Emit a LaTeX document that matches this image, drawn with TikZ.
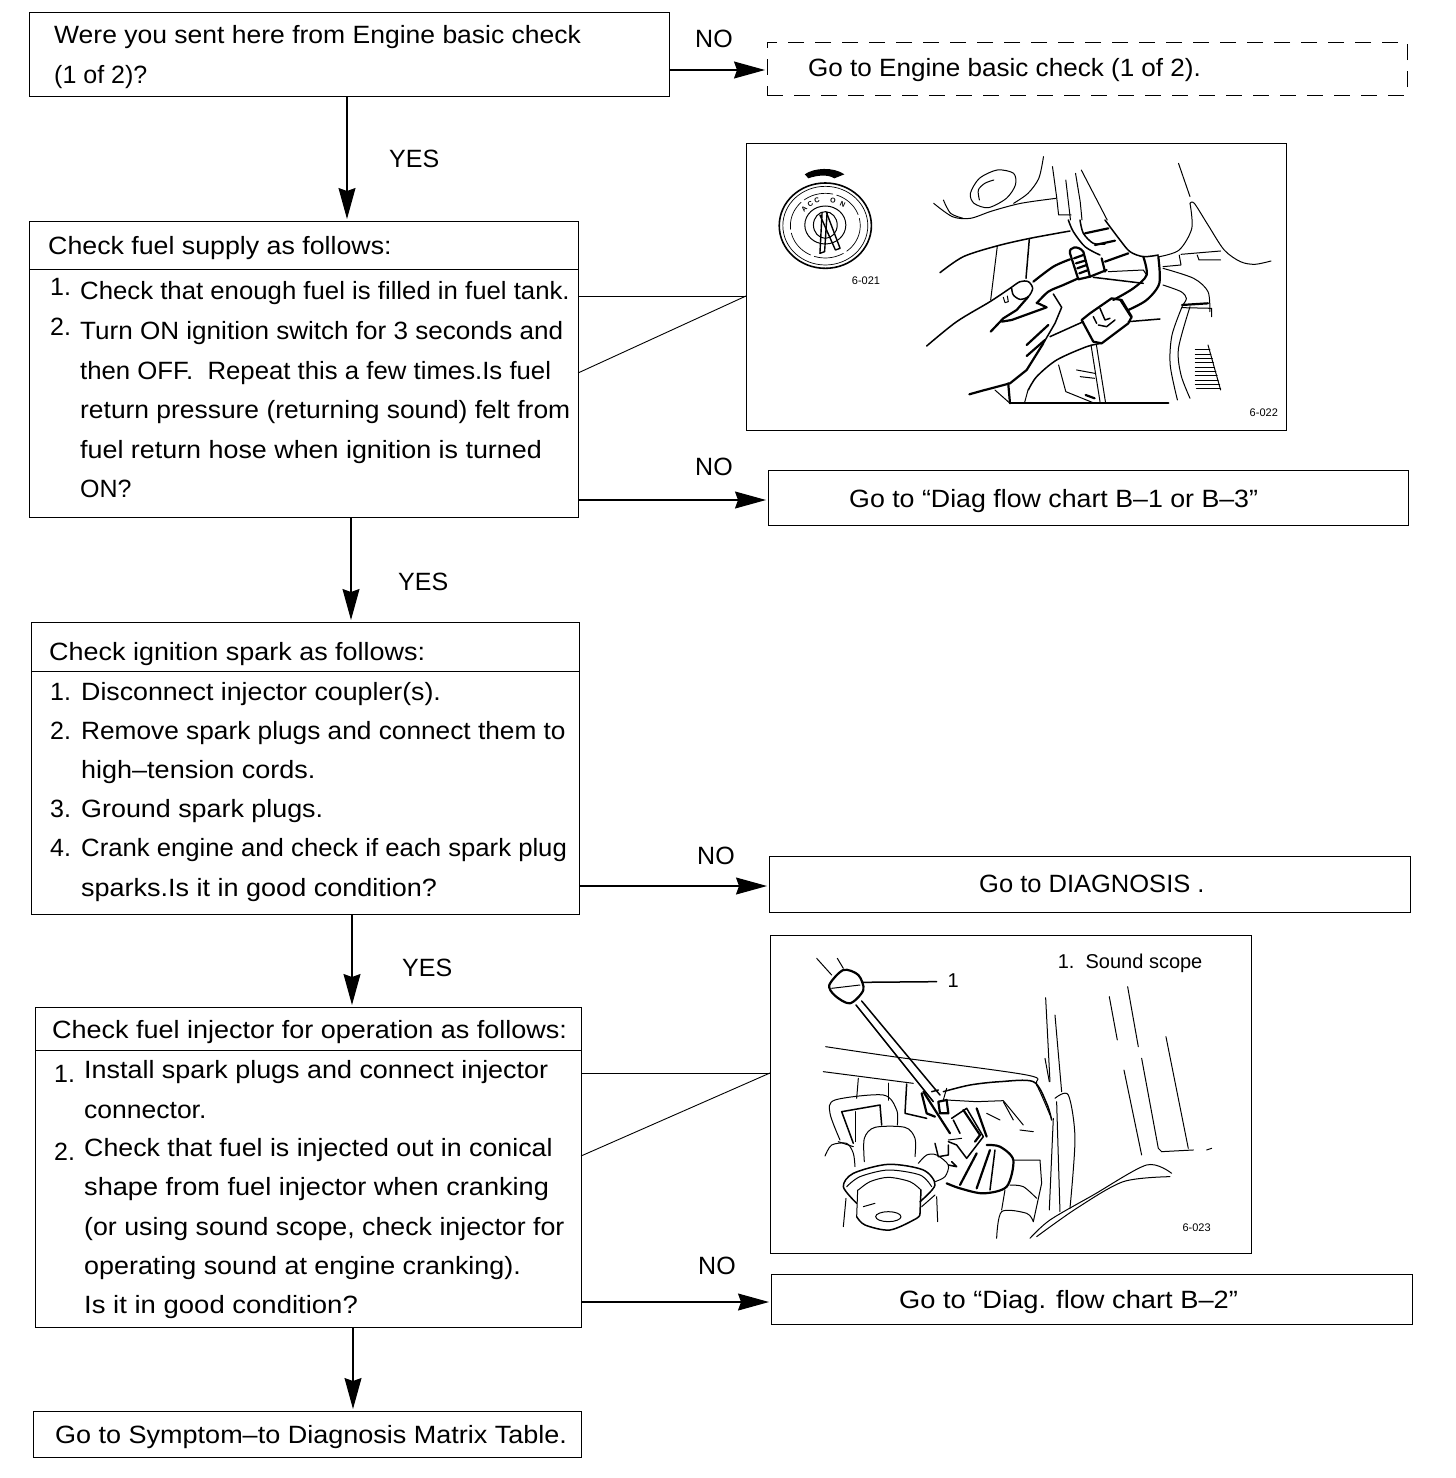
\documentclass[tikz,border=0pt]{standalone}
\usepackage{graphicx}
\usepackage{fontspec}
\setsansfont{Liberation Sans}
\usetikzlibrary{arrows.meta,positioning}
\newcommand{\sqz}[2]{\scalebox{#1}[1]{#2}}
\tikzset{
  % --- nodes
  box/.style    = {draw=black, line width=1pt, anchor=north west, inner sep=0pt, outer sep=0pt},
  gobox/.style  = {box},
  dashbox/.style= {box, line width=0.9pt, dash pattern=on 16pt off 11pt},
  photo/.style  = {box},
  txt/.style    = {anchor=base west, inner sep=0pt, font=\fontsize{25}{30}\selectfont\sffamily},
  capt/.style   = {anchor=base west, inner sep=0pt, font=\fontsize{20}{24}\selectfont\sffamily},
  fig/.style    = {anchor=center, inner sep=0pt, font=\fontsize{11}{13}\selectfont\sffamily},
  key/.style    = {anchor=center, inner sep=0pt, font=\fontsize{7}{8}\selectfont\sffamily\bfseries},
  % --- edges
  flow/.style   = {line width=1.2pt, -{Stealth[length=31pt,width=17pt,inset=3pt]}, shorten >=2pt},
  rulel/.style  = {line width=1pt},
  lead/.style   = {line width=0.9pt},
  ink/.style    = {line width=1pt, line join=round, line cap=round},
  inkm/.style   = {line width=1.5pt, line join=round, line cap=round},
  inkb/.style   = {line width=2.2pt, line join=round, line cap=round},
}
\begin{document}
\begin{tikzpicture}[x=1pt,y=-1pt]
  \useasboundingbox (0,0) rectangle (1456,1478);
  \fill[white] (0,0) rectangle (1456,1478);

  % first question
  \node[box, minimum width=640, minimum height=84] (q0) at (29,12) {};
  \node[txt] (q0a) at (54,43) {\sqz{1.06}{Were you sent here from Engine basic check}};
  \node[txt] (q0b) at (54,83) {(1 of 2)?};
  \node[dashbox, minimum width=640, minimum height=53] (goA) at (767,42) {};
  \node[txt] (goAt) at (808,76) {\sqz{1.043}{Go to Engine basic check (1 of 2).}};

  % fuel supply
  \node[box, minimum width=549, minimum height=296] (supply) at (29,221) {};
  \draw[rulel] (supply.west |- 0,269) -- (supply.east |- 0,269);
  \node[txt] (s0) at (48,254) {\sqz{1.07}{Check fuel supply as follows:}};
  \node[txt] (s1n) at (50,295) {1.};
  \node[txt] (s1) at (80,299) {\sqz{1.03}{Check that enough fuel is filled in fuel tank.}};
  \node[txt] (s2n) at (50,335) {2.};
  \node[txt] (s2) at (80,339) {\sqz{1.043}{Turn ON ignition switch for 3 seconds and}};
  \node[txt] (s3) at (80,379) {\sqz{1.03}{then OFF.\ \ Repeat this a few times.Is fuel}};
  \node[txt] (s4) at (80,418) {\sqz{1.056}{return pressure (returning sound) felt from}};
  \node[txt] (s5) at (80,458) {\sqz{1.075}{fuel return hose when ignition is turned}};
  \node[txt] (s6) at (80,497) {ON?};
  \node[gobox, minimum width=640, minimum height=55] (goB) at (768,470) {};
  \node[txt] (goBt) at (849,507) {\sqz{1.07}{Go to ``Diag flow chart B--1 or B--3''}};

  % ignition spark
  \node[box, minimum width=548, minimum height=292] (spark) at (31,622) {};
  \draw[rulel] (spark.west |- 0,671) -- (spark.east |- 0,671);
  \node[txt] (p0) at (49,660) {\sqz{1.078}{Check ignition spark as follows:}};
  \node[txt] (p1n) at (50,700) {1.};
  \node[txt] (p1) at (81,700) {\sqz{1.07}{Disconnect injector coupler(s).}};
  \node[txt] (p2n) at (50,739) {2.};
  \node[txt] (p2) at (81,739) {\sqz{1.05}{Remove spark plugs and connect them to}};
  \node[txt] (p3) at (81,778) {\sqz{1.08}{high--tension cords.}};
  \node[txt] (p4n) at (50,817) {3.};
  \node[txt] (p4) at (81,817) {\sqz{1.075}{Ground spark plugs.}};
  \node[txt] (p5n) at (50,856) {4.};
  \node[txt] (p5) at (81,856) {\sqz{1.028}{Crank engine and check if each spark plug}};
  \node[txt] (p6) at (81,896) {\sqz{1.08}{sparks.Is it in good condition?}};
  \node[gobox, minimum width=641, minimum height=56] (goC) at (769,856) {};
  \node[txt] (goCt) at (979,892) {\sqz{1.02}{Go to DIAGNOSIS .}};

  % fuel injector
  \node[box, minimum width=546, minimum height=320] (inject) at (35,1007) {};
  \draw[rulel] (inject.west |- 0,1050) -- (inject.east |- 0,1050);
  \node[txt] (j0) at (52,1038) {\sqz{1.08}{Check fuel injector for operation as follows:}};
  \node[txt] (j1n) at (54,1082) {1.};
  \node[txt] (j1) at (84,1078) {\sqz{1.077}{Install spark plugs and connect injector}};
  \node[txt] (j2) at (84,1118) {\sqz{1.06}{connector.}};
  \node[txt] (j3n) at (54,1160) {2.};
  \node[txt] (j3) at (84,1156) {\sqz{1.07}{Check that fuel is injected out in conical}};
  \node[txt] (j4) at (84,1195) {\sqz{1.086}{shape from fuel injector when cranking}};
  \node[txt] (j5) at (84,1235) {\sqz{1.07}{(or using sound scope, check injector for}};
  \node[txt] (j6) at (84,1274) {\sqz{1.076}{operating sound at engine cranking).}};
  \node[txt] (j7) at (84,1313) {\sqz{1.1}{Is it in good condition?}};
  \node[gobox, minimum width=641, minimum height=50] (goD) at (771,1274) {};
  \node[txt] (goDt) at (899,1308) {\sqz{1.09}{Go to ``Diag. flow chart B--2''}};

  % last box
  \node[box, minimum width=548, minimum height=46] (last) at (33,1411) {};
  \node[txt] (lastt) at (55,1443) {\sqz{1.08}{Go to Symptom--to Diagnosis Matrix Table.}};

  % pictures
  \node[photo, minimum width=540, minimum height=287] (photoA) at (746,143) {};
  \node[photo, minimum width=481, minimum height=318] (photoB) at (770,935) {};

  % yes / no
  \node[txt] (yesA) at (389,167) {YES};
  \node[txt] (yesB) at (398,590) {YES};
  \node[txt] (yesC) at (402,976) {YES};
  \node[txt] (noA) at (695,47) {NO};
  \node[txt] (noB) at (695,475) {NO};
  \node[txt] (noC) at (697,864) {NO};
  \node[txt] (noD) at (698,1274) {NO};

  % down arrows
  \draw[flow] (q0.south -| 347,0) -- (supply.north -| 347,0);
  \draw[flow] (supply.south -| 351,0) -- (spark.north -| 351,0);
  \draw[flow] (spark.south -| 352,0) -- (inject.north -| 352,0);
  \draw[flow] (inject.south -| 353,0) -- (last.north -| 353,0);

  % arrows to the right
  \draw[flow] (q0.east |- 0,70) -- (goA.west |- 0,70);
  \draw[flow] (supply.east |- 0,500) -- (goB.west |- 0,500);
  \draw[flow] (spark.east |- 0,886) -- (goC.west |- 0,886);
  \draw[flow] (inject.east |- 0,1302) -- (goD.west |- 0,1302);

  % leaders to the pictures
  \draw[lead] (supply.east |- 0,296) -- (photoA.west |- 0,296);
  \draw[lead] (supply.east |- 0,373) -- (photoA.west |- 0,296);
  \draw[lead] (inject.east |- 0,1073) -- (photoB.west |- 0,1073);
  \draw[lead] (inject.east |- 0,1156) -- (photoB.west |- 0,1073);

  % first picture, units of the crop
  \begin{scope}[shift={(740,135)},x=0.36pt,y=-0.3333pt]
    % ignition key
    \draw[ink, line width=1.6pt] (237,272) circle [radius=128];
    \draw[ink, line width=0.7pt] (237,272) circle [radius=118];
    \draw[ink, dash pattern=on 30pt off 4pt, line width=0.7pt] (237,272) circle [radius=97];
    \draw[ink] (237,270) circle [radius=57];
    \draw[ink] (237,270) ellipse [x radius=33, y radius=40];
    \draw[ink, line width=1.4pt] (228,232) -- (222,355) -- (235,350) -- (242,232);
    \draw[ink, line width=1.4pt] (222,240) -- (265,345) -- (278,340) -- (240,232);
    \fill[black] (180,118) .. controls (205,98) and (260,95) .. (290,118) -- (262,130) .. controls (245,118) and (215,120) .. (190,130) -- cycle;
    \node[key, rotate=45] (keyA) at (178,222) {A};
    \node[key, rotate=35] (keyB) at (195,207) {C};
    \node[key, rotate=20] (keyC) at (214,196) {C};
    \node[key, rotate=-10] (keyD) at (258,197) {O};
    \node[key, rotate=-25] (keyE) at (285,208) {N};
    \node[fig] (fig21) at (350,437) {6-021};
    \node[fig] (fig22) at (1455,833) {6-022};
    % cap and top lines
    \draw[ink] plot[smooth] coordinates {(538,205) (590,245) (640,250) (700,228) (780,205) (878,190)};
    \draw[ink] plot[smooth] coordinates {(565,195) (585,235) (620,250)};
    \draw[ink] plot[smooth cycle] coordinates {(640,175) (665,130) (715,105) (760,115) (765,150) (740,190) (690,218) (650,205)};
    \draw[ink] plot[smooth] coordinates {(665,195) (662,165) (680,145) (705,135)};
    \draw[ink] plot[smooth] coordinates {(843,65) (830,130) (800,175) (760,205)};
    \draw[ink] (868,95) -- (880,190) -- (885,240) -- (920,240);
    % upper hose and tank
    \draw[ink] (905,135) -- (912,200) -- (918,255);
    \draw[ink] (932,115) -- (945,200) -- (950,255);
    \draw[ink] (948,105) -- (1020,255);
    \draw[ink] plot[smooth] coordinates {(1165,365) (1220,345) (1255,280) (1250,205)};
    \draw[ink] plot[smooth] coordinates {(1250,205) (1262,205) (1300,270) (1345,345) (1390,380) (1430,388) (1475,378)};
    \draw[ink] (1218,85) -- (1250,185);
    % joins to the lower part
    \draw[ink] (790,805) -- (800,765);
    \draw[inkb] (680,765) -- (637,778);
    \draw[ink] (708,765) -- (750,805);
    \draw[inkb] (750,805) -- (745,745);
    \draw[inkb] (750,805) -- (1190,805);
    \draw[ink] (885,690) -- (905,770) -- (985,805);
    \draw[ink] (975,630) -- (1000,800);
    \draw[ink] (990,630) -- (1015,800);
    \draw[ink] (935,705) -- (985,715);
    \draw[ink] (945,725) -- (985,730);
    \draw[inkb] (960,780) -- (985,790);
    % right hoses
    \draw[ink] plot[smooth] coordinates {(1175,400) (1260,430) (1300,470) (1305,530)};
    \draw[ink] plot[smooth] coordinates {(1175,450) (1225,470) (1240,490) (1230,510)};
    \draw[inkb] (1228,510) -- (1300,505);
    \draw[ink] (1228,518) -- (1310,520) -- (1310,545);
    \draw[ink] plot[smooth] coordinates {(1230,510) (1200,600) (1195,690) (1215,795)};
    \draw[ink] plot[smooth] coordinates {(1250,515) (1218,640) (1225,720) (1250,790)};
    \draw[ink] (1300,630) -- (1335,765);
    \draw[ink] (1265,645) -- (1305,645) (1265,658) -- (1308,658) (1265,671) -- (1312,671)
       (1265,684) -- (1315,684) (1265,697) -- (1318,697) (1265,710) -- (1322,710)
       (1265,723) -- (1325,723) (1265,736) -- (1328,736) (1265,749) -- (1332,749) (1268,762) -- (1335,762);
    \draw[ink] (1220,360) -- (1225,390) -- (1175,395);
    \draw[ink] (1225,358) -- (1335,348);
    \draw[ink] (1270,360) -- (1275,375) -- (1335,375);
  \end{scope}

  % hand and clamp of the first picture
  \begin{scope}[shift={(920,220)},x=0.3333pt,y=-0.3333pt]
    \draw[inkm] plot[smooth] coordinates {(60,158) (130,110) (230,78) (330,55) (450,33)};
    \draw[ink] (232,78) -- (212,240);
    \draw[inkm] (328,57) -- (318,175);
    % hose above the clamp
    \draw[inkm] plot[smooth] coordinates {(445,0) (460,35) (495,80) (540,105)};
    \draw[inkm] plot[smooth] coordinates {(480,0) (490,40) (520,70) (555,72)};
    \draw[inkb] (495,40) -- (565,25);
    \draw[inkb] (525,75) -- (585,62);
    \draw[inkm] plot[smooth] coordinates {(555,0) (600,60) (630,95) (670,110) (715,105)};
    % clamp
    \draw[inkb] (450,100) .. controls (445,80) and (475,75) .. (490,95) -- (510,170) -- (475,178) -- cycle;
    \draw[inkb] (462,115) -- (490,105);
    \draw[inkb] (468,130) -- (495,122);
    \draw[inkb] (472,145) -- (500,135);
    \draw[inkb] (478,160) -- (505,150);
    \draw[inkb] (510,170) -- (560,150);
    \draw[inkb] (545,115) -- (555,155);
    \draw[inkb] (555,125) -- (625,100);
    \draw[ink] (565,155) -- (670,150) -- (680,165);
    \draw[inkm] (520,172) -- (670,190);
    % finger and hoses
    \draw[inkb] plot[smooth] coordinates {(340,185) (400,140) (450,118)};
    \draw[inkb] plot[smooth] coordinates {(350,250) (385,215) (430,195) (475,175)};
    \draw[inkm] plot[smooth] coordinates {(20,378) (110,305) (210,245) (270,205) (300,185) (325,185) (338,205) (325,230) (300,238) (280,225) (275,205)};
    \draw[inkb] (325,230) -- (290,270) -- (250,295) -- (212,335);
    \draw[inkb] (245,305) -- (275,300) -- (380,262) -- (350,248);
    \draw[ink] (250,232) -- (255,248) -- (265,245) -- (262,228);
    \draw[inkm] (400,222) -- (425,262) -- (405,310) -- (370,370);
    \draw[inkb] (370,370) -- (320,450) -- (270,490) -- (195,510);
    \draw[inkb] (320,375) -- (385,315);
    \draw[inkb] (320,408) -- (375,360);
    \draw[inkm] (390,350) -- (490,305);
    % connector
    \draw[inkb] (485,300) -- (510,280) -- (575,235) -- (605,240) -- (635,290) -- (625,310) -- (545,370) -- (520,365) -- cycle;
    \draw[inkm] (600,240) -- (635,295);
    \draw[inkm] (520,290) -- (530,310);
    \draw[inkm] (540,265) -- (555,300) -- (570,295);
    \draw[inkm] (535,315) -- (560,320) -- (585,300);
    \draw[inkm] (625,305) -- (720,297);
    \draw[inkm] plot[smooth] coordinates {(325,510) (350,470) (410,420) (500,380) (545,370)};
    % return pipe
    \draw[inkb] plot[smooth] coordinates {(670,110) (680,165) (640,205) (580,240)};
    \draw[inkb] plot[smooth] coordinates {(715,110) (718,190) (680,240) (625,270)};
  \end{scope}

  % second picture, units of the crop
  \begin{scope}[shift={(760,925)},x=0.3333pt,y=-0.3333pt]
    \node[capt] (scopeN) at (893,130) {1.\ \ Sound scope};
    \node[capt] (scopeK) at (562,187) {1};
    \node[fig] (fig23) at (1310,908) {6-023};
    % sound scope
    \draw[ink] (170,100) -- (215,150);
    \draw[ink] (232,100) -- (250,130);
    \draw[inkb] plot[smooth cycle] coordinates {(208,180) (250,135) (295,150) (310,195) (270,235) (225,212)};
    \draw[ink] (215,190) -- (300,180);
    \draw[inkm] (305,172) -- (530,170);
    \draw[inkm] (288,240) -- (520,530);
    \draw[inkm] (305,228) -- (540,510);
    % lines behind
    \draw[ink] plot[smooth] coordinates {(197,365) (400,395) (800,450) (830,480) (870,570)};
    \draw[ink] (190,440) -- (460,475);
    % pillars
    \draw[ink] (857,218) -- (870,470);
    \draw[ink] (885,270) -- (905,500);
    \draw[ink] (855,400) -- (868,470);
    \draw[ink] plot[smooth] coordinates {(885,520) (925,510) (945,640) (930,850)};
    \draw[ink] (880,580) -- (868,855);
    \draw[ink] (890,530) -- (900,860);
    \draw[ink] (1048,215) -- (1072,345);
    \draw[ink] (1103,185) -- (1135,365);
    \draw[ink] (1218,335) -- (1285,670);
    \draw[ink] (1092,435) -- (1145,690);
    \draw[ink] (1145,400) -- (1195,670) -- (1205,680);
    \draw[ink] (1205,680) -- (1300,675);
    \draw[ink] (1340,675) -- (1355,670);
    % sill
    \draw[ink] plot[smooth] coordinates {(810,940) (870,885) (1000,810) (1160,720) (1235,745)};
    \draw[ink] plot[smooth] coordinates {(830,935) (950,850) (1090,770) (1230,755)};
  \end{scope}

  % regulator and injector of the second picture
  \begin{scope}[shift={(820,1070)},x=0.3333pt,y=-0.3333pt]
    \draw[ink] (115,25) -- (110,85);
    \draw[inkm] (205,40) -- (205,90);
    \draw[inkm] (260,42) -- (255,130) -- (320,145);
    % pipe loop
    \draw[ink] plot[smooth] coordinates {(60,210) (30,130) (45,90) (190,75) (230,120) (232,165)};
    \draw[inkm] (100,220) -- (65,125) -- (180,105) -- (185,165);
    \draw[ink] (105,125) -- (105,215);
    \draw[ink] (55,215) -- (100,230);
    \draw[ink] plot[smooth] coordinates {(15,258) (35,225) (80,220) (100,250) (105,290)};
    % regulator
    \draw[ink] plot[smooth] coordinates {(133,275) (133,205) (165,172) (255,172) (285,205) (285,260)};
    \draw[inkm] plot[smooth] coordinates {(110,400) (70,350) (100,310) (205,283) (310,300) (345,345) (300,395)};
    \draw[ink] plot[smooth] coordinates {(80,350) (120,320) (205,300) (300,315) (335,350)};
    \draw[ink] plot[smooth] coordinates {(115,360) (150,335) (205,322) (270,335) (303,360)};
    \draw[ink] (113,360) -- (110,440);
    \draw[inkm] (303,360) -- (300,430);
    \draw[inkm] plot[smooth] coordinates {(110,440) (135,465) (210,480) (290,445) (300,430)};
    \draw[ink] (205,440) ellipse [x radius=38, y radius=15];
    \draw[ink] (130,410) -- (165,400);
    \draw[ink] (78,385) -- (70,470);
    \draw[ink] (350,380) -- (353,455);
    \draw[ink] (305,410) -- (345,375);
    \draw[ink] plot[smooth] coordinates {(295,280) (320,255) (350,255) (385,285) (375,320) (345,335)};
    % scope tip and connector
    \draw[inkb] (310,65) -- (345,120) -- (390,190);
    \draw[inkb] (305,70) -- (320,130) -- (345,140);
    \draw[inkm] (335,65) -- (355,60);
    \draw[inkb] (355,95) -- (380,90) -- (385,130) -- (360,130) -- cycle;
    \draw[inkm] plot[smooth] coordinates {(370,65) (450,45) (540,35) (640,35) (680,100) (695,150)};
    \draw[ink] (380,90) -- (470,95) -- (550,92) -- (610,165);
    \draw[ink] (640,185) -- (600,180);
    \draw[ink] (380,55) -- (370,90);
    \draw[inkm] (395,145) -- (440,115) -- (490,200) -- (440,265) -- (410,225) -- (385,215);
    \draw[inkb] (430,120) -- (480,195) -- (465,215);
    \draw[inkm] (400,150) -- (420,190);
    \draw[inkb] (470,115) -- (500,200);
    \draw[ink] (385,210) -- (425,205);
    \draw[inkm] (345,220) -- (355,260) -- (385,255) -- (385,225);
    \draw[inkm] (385,285) -- (410,290) -- (395,275);
    % dome
    \draw[inkb] plot[smooth] coordinates {(380,340) (420,355) (490,370) (560,350) (580,270) (540,230) (500,225)};
    \draw[inkb] (420,345) -- (470,250);
    \draw[inkb] (470,355) -- (510,240);
    \draw[inkm] (510,360) -- (525,240);
    % hoses
    \draw[ink] (580,270) -- (660,270) -- (665,340) -- (640,455);
    \draw[ink] plot[smooth] coordinates {(530,505) (545,425) (620,430) (640,455)};
    \draw[ink] (545,420) -- (555,360);
    \draw[ink] plot[smooth] coordinates {(570,345) (610,350) (650,385)};
    \draw[ink] (500,130) -- (540,150);
    \draw[ink] (550,95) -- (580,150);
  \end{scope}
\end{tikzpicture}
\end{document}
